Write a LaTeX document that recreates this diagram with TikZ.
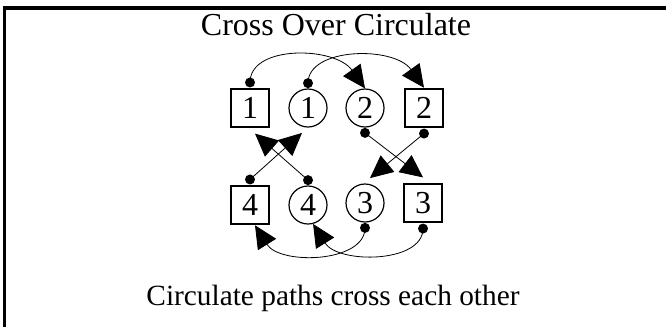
\documentclass[tikz,border=0pt]{standalone}
\usepackage{fontspec}
\setmainfont{Liberation Serif}
\usetikzlibrary{positioning,arrows.meta}

\begin{document}
\begin{tikzpicture}
    [
        x=0.75pt, y=-0.75pt,
        dancer/.style={draw, inner sep=0pt, font=\fontsize{24}{24}\selectfont},
        boy/.style={dancer, rectangle, line width=1.4pt, minimum size=29pt},
        girl/.style={dancer, circle, line width=0.9pt, minimum size=28.5pt},
        hand/.style={circle, fill, inner sep=0pt, minimum size=7.5pt},
        move/.style={line width=0.6pt, -{Triangle[length=17pt, width=16pt]}},
        caption/.style={anchor=base, font=\fontsize{22}{22}\selectfont}
    ]

    \useasboundingbox (0,0) rectangle (666,326);

    \coordinate (frameR) at (672,8);
    \coordinate (frameC) at (4.7,8);
    \coordinate (frameB) at (4.7,332);
    \draw[line width=2.6pt, line join=miter] (frameR) -- (frameC) -- (frameB);

    \node[caption, font=\fontsize{24}{24}\selectfont] (title) at (336,35) {Cross Over Circulate};
    \node[caption] (note) at (333,305) {Circulate paths cross each other};

    \node[boy]  (b1) at (250,108) {1};
    \node[girl] (g1) at (308,108) {1};
    \node[girl] (g2) at (365,108) {2};
    \node[boy]  (b2) at (424,108) {2};
    \node[boy]  (b4) at (250,205) {4};
    \node[girl] (g4) at (308,205) {4};
    \node[girl] (g3) at (365,203) {3};
    \node[boy]  (b3) at (423,203) {3};

    \node[hand, above=0pt of b1] (hb1) {};
    \node[hand, above=0pt of g1] (hg1) {};
    \node[hand, below=0pt of g2] (hg2) {};
    \node[hand, below=0pt of b2] (hb2) {};
    \node[hand, above=0pt of b4] (hb4) {};
    \node[hand, above=0pt of g4] (hg4) {};
    \node[hand, below=0pt of g3] (hg3) {};
    \node[hand, below=0pt of b3] (hb3) {};

    % across the top
    \draw[move] (hb1.center) .. controls +(0,-38) and +(-30,-42) .. (g2.north);
    \draw[move] (hg1.center) .. controls +(0,-36) and +(-30,-42) .. (b2.north);

    % the two crossings
    \draw[move] (hb4.center) -- ([xshift=-4.5pt, yshift=-4pt]g1.south);
    \draw[move] (hg4.center) -- ([xshift=3.75pt, yshift=-4pt]b1.south);
    \draw[move] (hg2.center) -- ([yshift=4pt]b3.north);
    \draw[move] (hb2.center) -- ([xshift=3.75pt, yshift=4pt]g3.north);

    % across the bottom
    \draw[move] (hg3.center) .. controls +(0,35) and +(25,40) .. ([xshift=3.75pt]b4.south);
    \draw[move] (hb3.center) .. controls +(0,35) and +(25,40) .. (g4.-75);
\end{tikzpicture}
\end{document}
